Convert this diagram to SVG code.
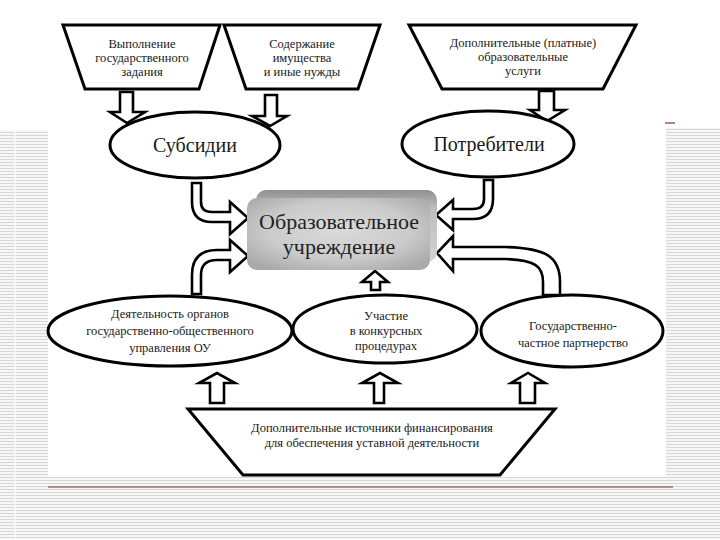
<svg xmlns="http://www.w3.org/2000/svg" width="720" height="540" viewBox="0 0 720 540">
<defs>
<pattern id="stripes" width="6" height="3" patternUnits="userSpaceOnUse">
<rect width="6" height="3" fill="#f7f7f7"/>
<rect width="6" height="1" fill="#d6d6d6"/>
</pattern>
<radialGradient id="face" cx="0.5" cy="0.45" r="0.65">
<stop offset="0" stop-color="#dadada"/>
<stop offset="0.6" stop-color="#cbcbcb"/>
<stop offset="1" stop-color="#a9a9a9"/>
</radialGradient>
<linearGradient id="back" x1="0" y1="0" x2="0" y2="1">
<stop offset="0" stop-color="#8f8f8f"/>
<stop offset="0.25" stop-color="#bdbdbd"/>
<stop offset="1" stop-color="#d4d4d4"/>
</linearGradient>
<style>
.shape{fill:#fff;stroke:#000;stroke-width:3;stroke-linejoin:miter}
.arrow{fill:#fff;stroke:#000;stroke-width:2.6;stroke-linejoin:miter}
text{font-family:'Times New Roman','Liberation Serif','Noto Serif','DejaVu Serif',Tinos,FreeSerif,serif;fill:#1a1a1a;text-anchor:middle}
.s{font-size:12.5px}
.m{font-size:20px}
.l{font-size:22px;fill:#222}
</style>
</defs>

<!-- background -->
<rect x="0" y="0" width="720" height="540" fill="#fff"/>
<rect x="0" y="130" width="48" height="410" fill="url(#stripes)"/>
<rect x="666" y="128" width="54" height="412" fill="url(#stripes)"/>
<rect x="0" y="477" width="720" height="63" fill="url(#stripes)"/>
<line x1="15" y1="130" x2="15" y2="540" stroke="#fafafa" stroke-width="1.5"/>
<line x1="48" y1="487" x2="673" y2="487" stroke="#8b2a2a" stroke-width="1.2"/>
<line x1="665" y1="123" x2="675" y2="123" stroke="#8b2a2a" stroke-width="1.2"/>

<g id="connectors">
<path class="arrow" d="M120,92 L133,92 L133,112 L145,112 L127,123 L110,112 L120,112 Z"/>
<path class="arrow" d="M265,95 L277,95 L277,116 L287,116 L270,126 L252,116 L265,116 Z"/>
<path class="arrow" d="M539,91 L554,91 L554,110 L565,110 L547,121 L530,110 L539,110 Z"/>
<path class="arrow" d="M192,183 L192,202 Q192,222 212,222 L230,222 L230,234 L248,218 L230,202 L230,212 L212,212 Q201,212 201,202 L201,183 Z"/>
<path class="arrow" d="M192,294 L192,275 Q192,250 217,250 L230,250 L230,240 L248,256 L230,272 L230,260 L217,260 Q201,260 201,275 L201,294 Z"/>
<path class="arrow" d="M493,180 L493,199 Q493,219 473,219 L453,219 L453,230 L436,215 L453,200 L453,209 L473,209 Q484,209 484,199 L484,180 Z"/>
<path class="arrow" d="M560,295 L560,282 C560,256 545,248 505,247 L453,247 L453,236 L437,253 L453,271 L453,259 L505,259 C535,260 543,266 543,282 L543,295 Z"/>
<path class="arrow" d="M371,290 L371,282 L362,282 L375,271 L388,282 L380,282 L380,290 Z"/>
<path class="arrow" d="M210,403 L210,383 L199,383 L217,373 L235,383 L224,383 L224,403 Z"/>
<path class="arrow" d="M374,403 L374,383 L362,383 L380,373 L398,383 L384,383 L384,403 Z"/>
<path class="arrow" d="M520,403 L520,383 L511,383 L528,373 L545,383 L535,383 L535,403 Z"/>
</g>

<g id="top1">
<polygon class="shape" points="63,25 220,25 199,89 85,89"/>
<text class="s" x="142" y="48">Выполнение</text>
<text class="s" x="142" y="62">государственного</text>
<text class="s" x="142" y="76">задания</text>
</g>
<g id="top2">
<polygon class="shape" points="224,25 380,25 358,89 246,89"/>
<text class="s" x="302" y="48">Содержание</text>
<text class="s" x="302" y="62">имущества</text>
<text class="s" x="302" y="76">и иные нужды</text>
</g>
<g id="top3">
<polygon class="shape" points="409,25 636,25 603,89 442,89"/>
<text class="s" x="523" y="47">Дополнительные (платные)</text>
<text class="s" x="523" y="61">образовательные</text>
<text class="s" x="523" y="75">услуги</text>
</g>

<g id="subsidies">
<ellipse class="shape" cx="195" cy="145" rx="85" ry="33"/>
<text class="m" x="195" y="152">Субсидии</text>
</g>
<g id="consumers">
<ellipse class="shape" cx="488" cy="144" rx="86" ry="33"/>
<text class="m" x="489" y="151">Потребители</text>
</g>

<g id="institution">
<rect x="256" y="190" width="181" height="72" rx="10" fill="url(#back)"/>
<rect x="247" y="198" width="183" height="72" rx="10" fill="url(#face)"/>
<text class="l" x="339" y="229">Образовательное</text>
<text class="l" x="339" y="254">учреждение</text>
</g>

<g id="governance">
<ellipse class="shape" cx="170" cy="331" rx="122" ry="35"/>
<text class="s" x="170" y="318">Деятельность органов</text>
<text class="s" x="170" y="335">государственно-общественного</text>
<text class="s" x="170" y="352">управления ОУ</text>
</g>
<g id="competition">
<ellipse class="shape" cx="385" cy="329" rx="92" ry="34"/>
<text class="s" x="386" y="320">Участие</text>
<text class="s" x="386" y="335">в конкурсных</text>
<text class="s" x="386" y="350">процедурах</text>
</g>
<g id="ppp">
<ellipse class="shape" cx="572" cy="331" rx="91" ry="36"/>
<text class="s" x="573" y="330">Государственно-</text>
<text class="s" x="573" y="347">частное партнерство</text>
</g>

<g id="extra">
<polygon class="shape" points="188,409 555,409 500,475 243,475"/>
<text class="s" x="372" y="432">Дополнительные источники финансирования</text>
<text class="s" x="372" y="447">для обеспечения уставной деятельности</text>
</g>
</svg>
